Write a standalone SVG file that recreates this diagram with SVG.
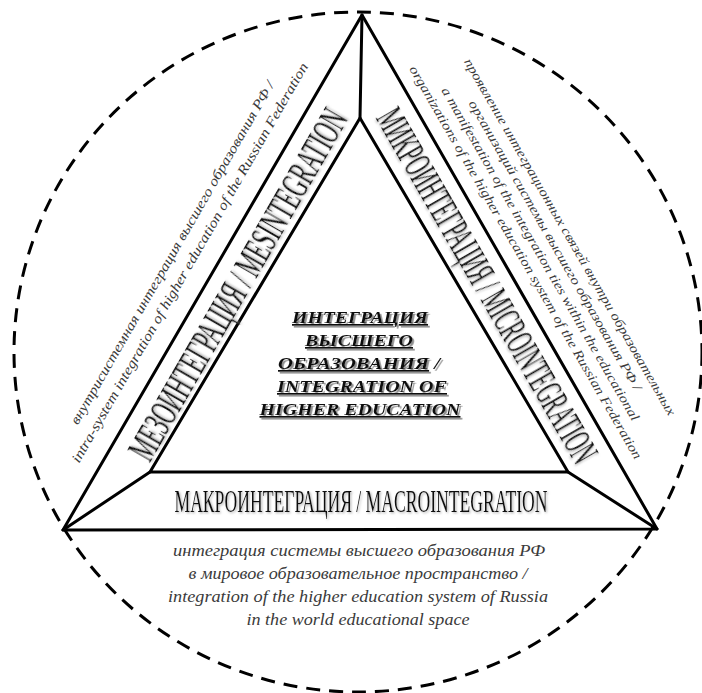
<svg xmlns="http://www.w3.org/2000/svg" width="702" height="693" viewBox="0 0 702 693">
<defs>
<filter id="sh" filterUnits="userSpaceOnUse" x="-900" y="-900" width="1800" height="1800">
<feDropShadow dx="1.8" dy="1.8" stdDeviation="0.6" flood-color="#808080" flood-opacity="0.9"/>
</filter>
<filter id="sh2" filterUnits="userSpaceOnUse" x="-900" y="-900" width="1800" height="1800">
<feDropShadow dx="1.2" dy="1.2" stdDeviation="0.8" flood-color="#9a9a9a" flood-opacity="0.8"/>
</filter>
</defs>
<style>
.ln{fill:none;stroke:#000;stroke-width:3;stroke-linejoin:round;stroke-linecap:round}
.circ{fill:none;stroke:#000;stroke-width:3;stroke-dasharray:14 9}
.band{font-family:"Liberation Serif",serif;fill:#111;text-anchor:middle;filter:url(#sh2)}
.desc{font-family:"Liberation Serif",serif;font-style:italic;fill:#3a3a3a;text-anchor:middle}
.ctr{font-family:"Liberation Serif",serif;font-style:italic;font-weight:bold;font-size:17px;fill:#111;text-anchor:middle;filter:url(#sh)}
.u{text-decoration:underline}
</style>
<rect width="702" height="693" fill="#fff"/>
<ellipse class="circ" cx="358" cy="352" rx="344" ry="340"/>
<g id="connectors">
<polygon class="ln" points="362,15 63,530 657,529"/>
<polygon class="ln" points="360,118 150,472 568,472"/>
<line class="ln" x1="362" y1="15" x2="360" y2="118"/>
<line class="ln" x1="63" y1="530" x2="150" y2="472"/>
<line class="ln" x1="657" y1="529" x2="568" y2="472"/>
</g>
<g id="center">
<text class="ctr" x="360" y="323" textLength="136" lengthAdjust="spacingAndGlyphs"><tspan class="u">ИНТЕГРАЦИЯ</tspan></text>
<text class="ctr" x="359" y="346" textLength="108" lengthAdjust="spacingAndGlyphs"><tspan class="u">ВЫСШЕГО</tspan></text>
<text class="ctr" x="359" y="369" textLength="162" lengthAdjust="spacingAndGlyphs"><tspan class="u">ОБРАЗОВАНИЯ</tspan> /</text>
<text class="ctr" x="362" y="392" textLength="170" lengthAdjust="spacingAndGlyphs"><tspan class="u">INTEGRATION OF</tspan></text>
<text class="ctr" x="360" y="415" textLength="201" lengthAdjust="spacingAndGlyphs"><tspan class="u">HIGHER EDUCATION</tspan></text>
</g>
<g id="meso">
<text class="band" font-size="41" transform="translate(237,284) rotate(-60)" x="0" y="14" textLength="398" lengthAdjust="spacingAndGlyphs">МЕЗОИНТЕГРАЦИЯ / MESINTEGRATION</text>
<text class="desc" font-size="14" transform="translate(211,275) rotate(-60)" x="0" y="-40" textLength="394" lengthAdjust="spacingAndGlyphs">внутрисистемная интеграция высшего образования РФ /</text>
<text class="desc" font-size="14" transform="translate(211,275) rotate(-60)" x="0" y="-20" textLength="459" lengthAdjust="spacingAndGlyphs">intra-system integration of higher education of the Russian Federation</text>
</g>
<g id="micro">
<text class="band" font-size="41" transform="translate(488,285) rotate(60)" x="0" y="14" textLength="402" lengthAdjust="spacingAndGlyphs">МИКРОИНТЕГРАЦИЯ / MICROINTEGRATION</text>
<text class="desc" font-size="13" transform="translate(509,272) rotate(60)" x="0" y="-66" textLength="410" lengthAdjust="spacingAndGlyphs">проявление интеграционных связей внутри образовательных</text>
<text class="desc" font-size="13" transform="translate(509,272) rotate(60)" x="0" y="-49" textLength="333" lengthAdjust="spacingAndGlyphs">организаций системы высшего образования РФ /</text>
<text class="desc" font-size="13" transform="translate(509,272) rotate(60)" x="0" y="-32" textLength="383" lengthAdjust="spacingAndGlyphs">a manifestation of the integration ties within the educational</text>
<text class="desc" font-size="13" transform="translate(509,272) rotate(60)" x="0" y="-15" textLength="452" lengthAdjust="spacingAndGlyphs">organizations of the higher education system of the Russian Federation</text>
</g>
<g id="macro">
<text class="band" font-size="31" x="361" y="512" textLength="373" lengthAdjust="spacingAndGlyphs">МАКРОИНТЕГРАЦИЯ / MACROINTEGRATION</text>
<text class="desc" font-size="16" x="359" y="556" textLength="372" lengthAdjust="spacingAndGlyphs">интеграция системы высшего образования РФ</text>
<text class="desc" font-size="16" x="358" y="579" textLength="339" lengthAdjust="spacingAndGlyphs">в мировое образовательное пространство /</text>
<text class="desc" font-size="16" x="358" y="602" textLength="380" lengthAdjust="spacingAndGlyphs">integration of the higher education system of Russia</text>
<text class="desc" font-size="16" x="358" y="625" textLength="223" lengthAdjust="spacingAndGlyphs">in the world educational space</text>
</g>
</svg>
